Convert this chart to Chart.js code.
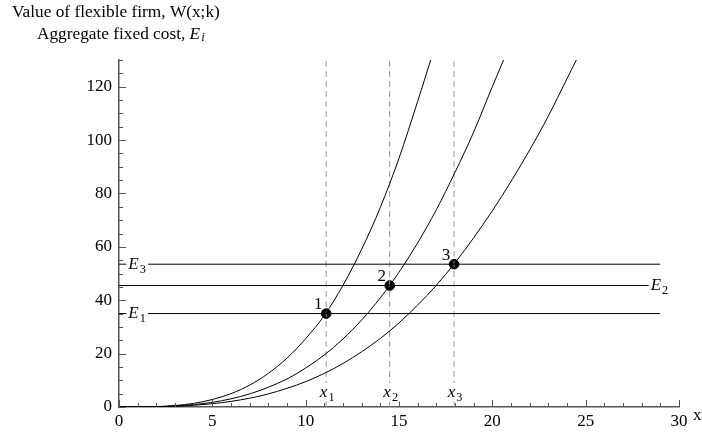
<!DOCTYPE html>
<html>
<head>
<meta charset="utf-8">
<script src="https://cdn.jsdelivr.net/npm/chart.js@4.4.0/dist/chart.umd.min.js"></script>
<style>
  html, body { margin: 0; padding: 0; background: #fff; }
  #wrap { width: 702px; height: 434px; }
</style>
</head>
<body>
<div id="wrap"><canvas id="chart"></canvas></div>
<script>
// values
const curve1X = [0, 1, 2, 3, 4, 5, 6, 7, 8, 9, 10, 11, 12, 13, 14, 15, 16, 16.7];
const curve1Y = [0, 0.02, 0.15, 0.54, 1.36, 2.8, 5.0, 8.2, 12.6, 18.3, 25.6, 34.3, 45.6, 59.1, 74.8, 93.2, 114.5, 130];
const curve2X = [0, 1, 2, 3, 4, 5, 6, 7, 8, 9, 10, 11, 12, 13, 14, 15, 16, 17, 18, 19, 20, 20.6];
const curve2Y = [0, 0.013, 0.11, 0.37, 0.89, 1.75, 3.07, 4.9, 7.4, 10.5, 14.6, 19.5, 25.5, 32.6, 40.9, 50.5, 61.5, 73.9, 87.9, 103, 120, 130];
const curve3X = [0, 1, 2, 3, 4, 5, 6, 7, 8, 9, 10, 11, 12, 13, 14, 15, 16, 17, 18, 19, 20, 21, 22, 23, 24, 24.5];
const curve3Y = [0, 0.01, 0.083, 0.27, 0.64, 1.23, 2.1, 3.3, 4.9, 7.0, 9.5, 12.6, 16.3, 20.7, 25.7, 31.5, 38.2, 45.6, 54.0, 63.4, 73.5, 84.5, 96.3, 109, 123, 130];

const costLevels = [35, 45.5, 53.5];          // E1, E2, E3
const costNames = ['1', '2', '3'];
const costLineEnd = 29;
const thresholdX = [11.1, 14.5, 17.95];        // x1, x2, x3
const pointNames = ['1', '2', '3'];

const xTickValues = [0, 5, 10, 15, 20, 25, 30];
const yTickValues = [0, 20, 40, 60, 80, 100, 120];

const FONT = "'Liberation Serif', 'Times New Roman', serif";
const AXIS_COLOR = '#555';

function toPoints(xs, ys) {
    return xs.map(function (x, i) { return { x: x, y: ys[i] }; });
}

function curveSet(xs, ys) {
    return {
        data: toPoints(xs, ys),
        borderColor: '#000',
        borderWidth: 1,
        pointRadius: 0,
        cubicInterpolationMode: 'monotone',
        fill: false
    };
}

var datasets = [curve1X, curve2X, curve3X].map(function (xs, i) {
    return curveSet(xs, [curve1Y, curve2Y, curve3Y][i]);
});

// horizontal cost lines
costLevels.forEach(function (e) {
    datasets.push({
        data: [{ x: 0, y: e }, { x: costLineEnd, y: e }],
        borderColor: '#000',
        borderWidth: 1,
        pointRadius: 0
    });
});

// dashed thresholds
thresholdX.forEach(function (x) {
    datasets.push({
        data: [{ x: x, y: 0 }, { x: x, y: 130 }],
        borderColor: '#9a9a9a',
        borderWidth: 1,
        borderDash: [6, 4],
        pointRadius: 0
    });
});

// intersection points
datasets.push({
    data: thresholdX.map(function (x, i) { return { x: x, y: costLevels[i] }; }),
    showLine: false,
    pointRadius: 4.8,
    pointBackgroundColor: '#000',
    pointBorderColor: '#000'
});

// text with a subscript, centred at cx
function drawSub(ctx, main, sub, cx, cy, size, white) {
    ctx.font = 'italic ' + size + 'px ' + FONT;
    var wMain = ctx.measureText(main).width;
    ctx.font = (size * 0.72) + 'px ' + FONT;
    var wSub = ctx.measureText(sub).width;
    var total = wMain + wSub + 1;
    var x0 = cx - total / 2;
    if (white) {
        ctx.fillStyle = '#fff';
        ctx.fillRect(x0 - 2, cy - size * 0.55, total + 4, size * 1.1);
    }
    ctx.fillStyle = '#000';
    ctx.textAlign = 'left';
    ctx.textBaseline = 'middle';
    ctx.font = 'italic ' + size + 'px ' + FONT;
    ctx.fillText(main, x0, cy);
    ctx.font = (size * 0.72) + 'px ' + FONT;
    ctx.fillText(sub, x0 + wMain + 1, cy + size * 0.3);
}

const annotations = {
    id: 'annotations',
    afterDatasetsDraw: function (chart) {
        var ctx = chart.ctx;
        var xs = chart.scales.x, ys = chart.scales.y;
        var area = chart.chartArea;
        ctx.save();

        // inside tick marks
        ctx.strokeStyle = AXIS_COLOR;
        ctx.lineWidth = 1;
        for (var i = 0; i <= 30; i++) {
            var px = Math.round(xs.getPixelForValue(i)) + 0.5;
            var len = i % 5 === 0 ? 7 : 4;
            ctx.beginPath();
            ctx.moveTo(px, area.bottom);
            ctx.lineTo(px, area.bottom - len);
            ctx.stroke();
        }
        for (var v = 0; v <= 130; v += 5) {
            var py = Math.round(ys.getPixelForValue(v)) + 0.5;
            var l2 = v % 20 === 0 ? 7 : 4;
            ctx.beginPath();
            ctx.moveTo(area.left, py);
            ctx.lineTo(area.left + l2, py);
            ctx.stroke();
        }

        // E labels
        drawSub(ctx, 'E', costNames[2], xs.getPixelForValue(0.97), ys.getPixelForValue(costLevels[2]), 17, true);
        drawSub(ctx, 'E', costNames[0], xs.getPixelForValue(0.97), ys.getPixelForValue(costLevels[0]), 17, true);
        drawSub(ctx, 'E', costNames[1], xs.getPixelForValue(28.95), ys.getPixelForValue(costLevels[1]), 17, true);

        // x_i labels
        thresholdX.forEach(function (x, i) {
            drawSub(ctx, 'x', String(i + 1), xs.getPixelForValue(x) + 1, ys.getPixelForValue(5.5), 17, true);
        });

        // point numbers
        ctx.fillStyle = '#000';
        ctx.font = '17px ' + FONT;
        ctx.textAlign = 'center';
        ctx.textBaseline = 'middle';
        thresholdX.forEach(function (x, i) {
            ctx.fillText(pointNames[i], xs.getPixelForValue(x) - 8, ys.getPixelForValue(costLevels[i]) - 9);
        });

        // titles
        ctx.textAlign = 'left';
        ctx.font = '17.3px ' + FONT;
        ctx.fillText('Value of flexible firm, W(x;k)', 12, 12);
        var t2 = 'Aggregate fixed cost, ';
        ctx.fillText(t2, 37, 34);
        var w2 = ctx.measureText(t2).width;
        ctx.font = 'italic 17.3px ' + FONT;
        ctx.fillText('E', 37 + w2, 34);
        var wE = ctx.measureText('E').width;
        ctx.font = 'italic 12.5px ' + FONT;
        ctx.fillText('i', 37 + w2 + wE + 1, 38);

        // x axis name
        ctx.font = '17px ' + FONT;
        ctx.fillText('x', area.right + 14, area.bottom + 9);
        ctx.restore();
    }
};

new Chart(document.getElementById('chart'), {
    type: 'line',
    data: { datasets: datasets },
    options: {
        responsive: true,
        maintainAspectRatio: false,
        animation: false,
        layout: { padding: { left: 0, top: 60, right: 23, bottom: 0 } },
        plugins: {
            legend: { display: false },
            tooltip: { enabled: false }
        },
        scales: {
            x: {
                type: 'linear',
                min: 0,
                max: 30,
                grid: { display: false, drawTicks: false },
                border: { display: true, color: AXIS_COLOR, width: 1.5 },
                afterBuildTicks: function (scale) {
                    scale.ticks = xTickValues.map(function (v) { return { value: v }; });
                },
                afterFit: function (scale) { scale.height = 27; },
                ticks: {
                    padding: 4,
                    color: '#000',
                    maxRotation: 0,
                    font: { family: FONT, size: 17 }
                }
            },
            y: {
                type: 'linear',
                min: 0,
                max: 130,
                grid: { display: false, drawTicks: false },
                border: { display: true, color: AXIS_COLOR, width: 1.5 },
                afterBuildTicks: function (scale) {
                    scale.ticks = yTickValues.map(function (v) { return { value: v }; });
                },
                afterFit: function (scale) { scale.width = 119; },
                ticks: {
                    padding: 7,
                    color: '#000',
                    font: { family: FONT, size: 17 }
                }
            }
        }
    },
    plugins: [annotations]
});
</script>
</body>
</html>
